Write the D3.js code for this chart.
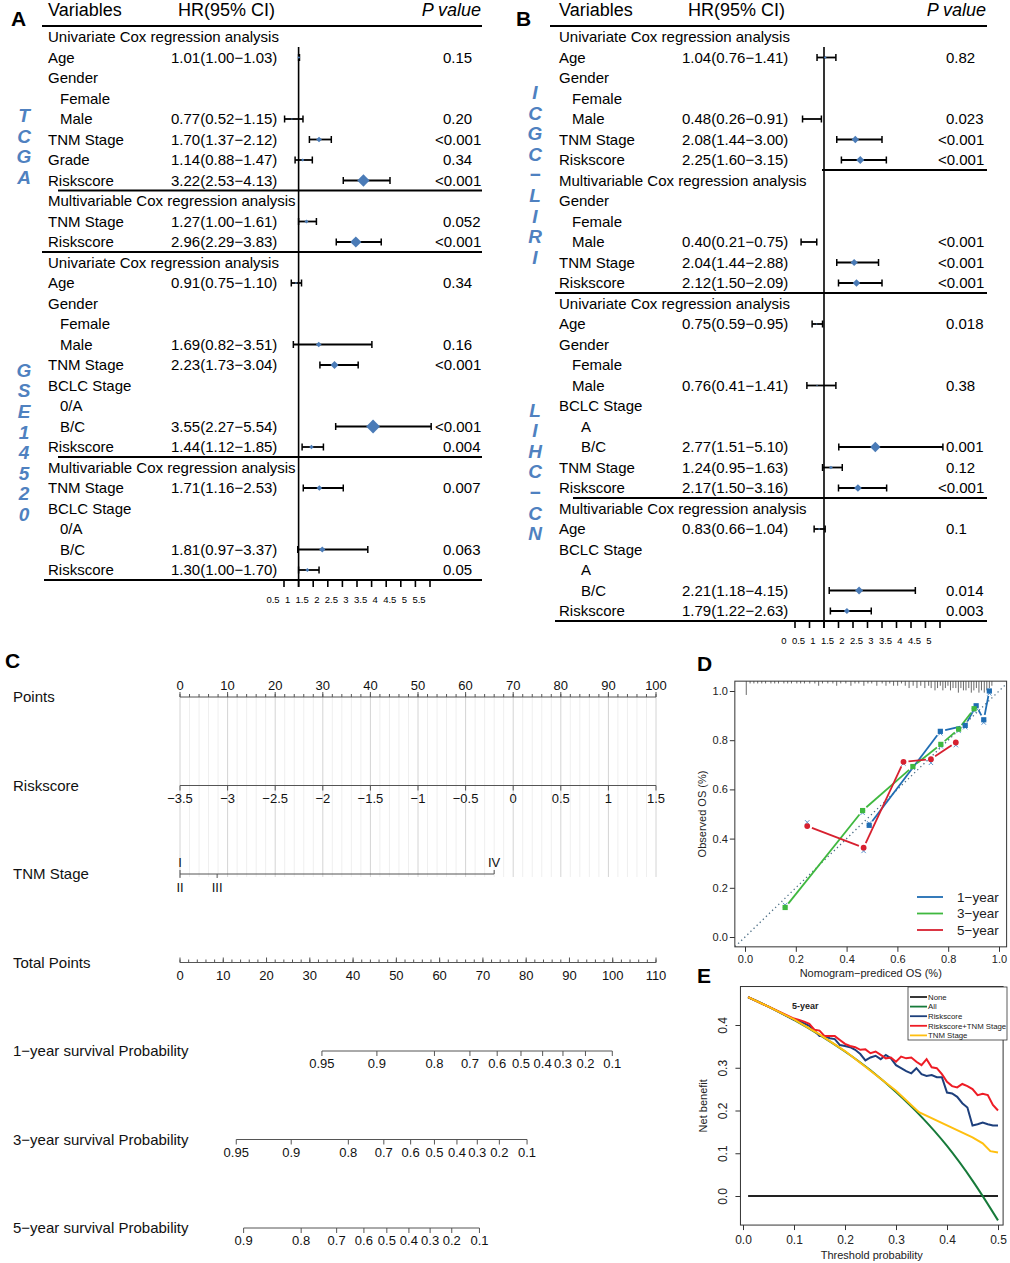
<!DOCTYPE html>
<html lang="en">
<head>
<meta charset="utf-8">
<title>Cox forest plots, nomogram, calibration and DCA</title>
<script src="https://cdnjs.cloudflare.com/ajax/libs/d3/7.8.5/d3.min.js"></script>
<style>
	body { margin: 0; background: #fff; }
	svg { display: block; font-family: "Liberation Sans", Arial, sans-serif; }
</style>
</head>
<body>
<svg id="fig" width="1010" height="1263"></svg>
<script>
// ---------- A: TCGA / GSE14520 ----------
var labelsA = ["Univariate Cox regression analysis","Age","Gender","Female","Male","TNM Stage","Grade","Riskscore",
	"Multivariable Cox regression analysis","TNM Stage","Riskscore",
	"Univariate Cox regression analysis","Age","Gender","Female","Male","TNM Stage","BCLC Stage","0/A","B/C","Riskscore",
	"Multivariable Cox regression analysis","TNM Stage","BCLC Stage","0/A","B/C","Riskscore"];
var indentA = [0,0,0,1,1,0,0,0, 0,0,0, 0,0,0,1,1,0,0,1,1,0, 0,0,0,1,1,0];
var hrTextA = ["","1.01(1.00−1.03)","","","0.77(0.52−1.15)","1.70(1.37−2.12)","1.14(0.88−1.47)","3.22(2.53−4.13)",
	"","1.27(1.00−1.61)","2.96(2.29−3.83)",
	"","0.91(0.75−1.10)","","","1.69(0.82−3.51)","2.23(1.73−3.04)","","","3.55(2.27−5.54)","1.44(1.12−1.85)",
	"","1.71(1.16−2.53)","","","1.81(0.97−3.37)","1.30(1.00−1.70)"];
var hrA = [null,1.01,null,null,0.77,1.70,1.14,3.22, null,1.27,2.96, null,0.91,null,null,1.69,2.23,null,null,3.55,1.44, null,1.71,null,null,1.81,1.30];
var loA = [null,1.00,null,null,0.52,1.37,0.88,2.53, null,1.00,2.29, null,0.75,null,null,0.82,1.73,null,null,2.27,1.12, null,1.16,null,null,0.97,1.00];
var hiA = [null,1.03,null,null,1.15,2.12,1.47,4.13, null,1.61,3.83, null,1.10,null,null,3.51,3.04,null,null,5.54,1.85, null,2.53,null,null,3.37,1.70];
var pA = ["","0.15","","","0.20","<0.001","0.34","<0.001", "","0.052","<0.001",
	"","0.34","","","0.16","<0.001","","","<0.001","0.004", "","0.007","","","0.063","0.05"];
var sepRowsA = [7, 10, 20, 26];
var ticksA = [0.5,1,1.5,2,2.5,3,3.5,4,4.5,5,5.5];

// ---------- B: ICGC-LIRI / LIHC-CN ----------
var labelsB = ["Univariate Cox regression analysis","Age","Gender","Female","Male","TNM Stage","Riskscore",
	"Multivariable Cox regression analysis","Gender","Female","Male","TNM Stage","Riskscore",
	"Univariate Cox regression analysis","Age","Gender","Female","Male","BCLC Stage","A","B/C","TNM Stage","Riskscore",
	"Multivariable Cox regression analysis","Age","BCLC Stage","A","B/C","Riskscore"];
var indentB = [0,0,0,1,1,0,0, 0,0,1,1,0,0, 0,0,0,1,1,0,2,2,0,0, 0,0,0,2,2,0];
var hrTextB = ["","1.04(0.76−1.41)","","","0.48(0.26−0.91)","2.08(1.44−3.00)","2.25(1.60−3.15)",
	"","","","0.40(0.21−0.75)","2.04(1.44−2.88)","2.12(1.50−2.09)",
	"","0.75(0.59−0.95)","","","0.76(0.41−1.41)","","","2.77(1.51−5.10)","1.24(0.95−1.63)","2.17(1.50−3.16)",
	"","0.83(0.66−1.04)","","","2.21(1.18−4.15)","1.79(1.22−2.63)"];
var hrB = [null,1.04,null,null,0.48,2.08,2.25, null,null,null,0.40,2.04,2.12, null,0.75,null,null,0.76,null,null,2.77,1.24,2.17, null,0.83,null,null,2.21,1.79];
var loB = [null,0.76,null,null,0.26,1.44,1.60, null,null,null,0.21,1.44,1.50, null,0.59,null,null,0.41,null,null,1.51,0.95,1.50, null,0.66,null,null,1.18,1.22];
var hiB = [null,1.41,null,null,0.91,3.00,3.15, null,null,null,0.75,2.88,3.00, null,0.95,null,null,1.41,null,null,5.10,1.63,3.16, null,1.04,null,null,4.15,2.63];
var pB = ["","0.82","","","0.023","<0.001","<0.001", "","","","<0.001","<0.001","<0.001",
	"","0.018","","","0.38","","","0.001","0.12","<0.001", "","0.1","","","0.014","0.003"];
var sepRowsB = [6, 12, 22, 28];
var ticksB = [0,0.5,1,1.5,2,2.5,3,3.5,4,4.5,5];

// ---------- C: nomogram ----------
var pointTicks = [0,10,20,30,40,50,60,70,80,90,100];
var riskTicks = [-3.5,-3,-2.5,-2,-1.5,-1,-0.5,0,0.5,1,1.5];
var tnmLevels = ["I","II","III","IV"];
var tnmPoints = [0, 0, 7.8, 66];
var totalTicks = [0,10,20,30,40,50,60,70,80,90,100,110];
var surv1Prob = [0.95,0.9,0.8,0.7,0.6,0.5,0.4,0.3,0.2,0.1];
var surv1Pts = [32.8,45.5,58.8,67.0,73.3,78.8,83.8,88.5,93.7,99.9];
var surv3Prob = [0.95,0.9,0.8,0.7,0.6,0.5,0.4,0.3,0.2,0.1];
var surv3Pts = [13.0,25.7,38.9,47.1,53.3,58.8,64.0,68.7,73.8,80.2];
var surv5Prob = [0.9,0.8,0.7,0.6,0.5,0.4,0.3,0.2,0.1];
var surv5Pts = [14.7,28.0,36.2,42.5,47.8,52.9,57.8,62.8,69.2];

// ---------- D: calibration ----------
var cal1X = [0.489,0.769,0.867,0.910,0.940,0.962];
var cal1Y = [0.454,0.836,0.86,0.94,0.883,1.0];
var cal1Yc = [0.462,0.828,0.853,0.93,0.872,0.99];
var cal3X = [0.158,0.463,0.661,0.771,0.841,0.902];
var cal3Y = [0.12,0.514,0.693,0.783,0.845,0.928];
var cal3Yc = [0.13,0.505,0.688,0.775,0.838,0.92];
var cal5X = [0.245,0.467,0.624,0.732,0.830];
var cal5Y = [0.451,0.363,0.712,0.723,0.791];
var cal5Yc = [0.466,0.35,0.705,0.708,0.78];
var rugX = [0.005,0.02,0.035,0.05,0.066,0.081,0.102,0.117,0.132,0.153,0.168,0.183,0.204,0.219,0.234,0.255,0.275,0.29,0.305,0.326,0.346,0.361,0.377,0.397,0.417,0.433,0.448,0.468,0.484,0.499,0.519,0.54,0.555,0.57,0.585,0.601,0.616,0.631,0.646,0.662,0.677,0.692,0.708,0.723,0.733,0.748,0.758,0.769,0.779,0.789,0.799,0.809,0.819,0.83,0.84,0.85,0.86,0.87,0.881,0.891,0.901,0.911,0.921,0.931,0.942,0.952,0.962,0.972];
var rugN = [6,1,1,1,1,1,1,1,1,1,1,1,1,1,1,1,1,2,1,1,1,2,1,1,2,1,1,2,1,1,2,1,2,1,2,2,1,2,3,2,3,2,3,2,3,4,3,2,4,3,2,4,3,3,5,3,4,4,3,5,4,3,5,4,5,4,3,2];

// ---------- E: decision curve ----------
var dcaX = [0.01,0.05,0.10,0.11,0.12,0.13,0.14,0.15,0.16,0.17,0.18,0.19,0.20,0.21,0.22,0.23,0.24,0.25,0.26,0.27,0.28,0.29,
	0.30,0.31,0.32,0.33,0.34,0.35,0.36,0.37,0.38,0.39,0.40,0.41,0.42,0.43,0.44,0.45,0.46,0.47,0.48,0.49,0.50];
var dcaRisk = [0.465,0.443,0.412,0.409,0.404,0.398,0.387,0.374,0.374,0.369,0.367,0.353,0.351,0.348,0.342,0.332,0.317,0.324,0.328,0.320,0.330,0.322,
	0.306,0.299,0.292,0.287,0.299,0.285,0.281,0.283,0.278,0.278,0.242,0.240,0.232,0.217,0.207,0.165,0.168,0.172,0.168,0.165,0.165];
var dcaCombo = [0.465,0.443,0.415,0.412,0.408,0.403,0.389,0.387,0.374,0.374,0.374,0.365,0.356,0.351,0.348,0.342,0.343,0.334,0.338,0.330,0.322,0.324,
	0.314,0.326,0.322,0.324,0.314,0.306,0.320,0.301,0.299,0.285,0.267,0.257,0.254,0.262,0.257,0.250,0.236,0.239,0.236,0.213,0.200];
var dcaTnmX = [0.01,0.05,0.10,0.15,0.20,0.25,0.30,0.345,0.40,0.45,0.47,0.485,0.50];
var dcaTnm = [0.465,0.443,0.413,0.378,0.339,0.293,0.246,0.196,0.165,0.137,0.123,0.105,0.102];
var dcaAllX = [0.01,0.05,0.10,0.15,0.20,0.25,0.30,0.35,0.40,0.45,0.50];
var dcaAll = [0.465,0.443,0.412,0.377,0.338,0.294,0.243,0.185,0.117,0.036,-0.057];
var dcaNoneX = [0.01,0.50];
var dcaNone = [0,0];

var svg = d3.select("#fig");
var BLUE = "#4a7bb7";

function panelLetter(t, x, y) {
	svg.append("text").attr("x", x).attr("y", y).attr("font-size", 21).attr("font-weight", "bold").text(t);
}

function sideLetters(word, x, cy) {
	var chars = Array.from(word);
	var step = 20.6;
	chars.forEach(function (c, k) {
		svg.append("text").attr("x", x).attr("y", cy + (k - (chars.length - 1) / 2) * step)
			.attr("dy", "0.36em").attr("text-anchor", "middle")
			.attr("font-size", 19).attr("font-weight", "bold").attr("font-style", "italic")
			.attr("fill", "#4f81c0").text(c);
	});
}

function forest(o) {
	var g = svg.append("g");
	var n = o.labels.length;
	var y = d3.scaleLinear().domain([0, 1]).range([37, 57.5]);
	var x = d3.scaleLinear().domain(o.domain).range(o.range);
	var box = d3.scaleLinear().domain([0.4, 3.6]).range([0, 7]).clamp(true);
	var bottom = y(n - 1) + 10;

	g.append("text").attr("x", o.xText).attr("y", 16).attr("font-size", 18).text("Variables");
	g.append("text").attr("x", o.xHead).attr("y", 16).attr("font-size", 18).text("HR(95% CI)");
	g.append("text").attr("x", o.xEnd).attr("y", 16).attr("font-size", 18)
		.attr("font-style", "italic").attr("text-anchor", "end").text("P value");
	g.append("line").attr("x1", o.lineStart[0]).attr("x2", o.xEnd + 1).attr("y1", 26).attr("y2", 26)
		.attr("stroke", "#000").attr("stroke-width", 2);

	o.seps.forEach(function (r, k) {
		g.append("line").attr("x1", o.lineStart[k + 1]).attr("x2", o.xEnd + 1)
			.attr("y1", y(r) + 10).attr("y2", y(r) + 10).attr("stroke", "#000").attr("stroke-width", 2);
	});

	// reference line at HR = 1
	g.append("line").attr("x1", x(1)).attr("x2", x(1)).attr("y1", 47).attr("y2", bottom + 7)
		.attr("stroke", "#000").attr("stroke-width", 1.6);

	// axis
	g.selectAll(".tk").data(o.ticks).enter().append("line")
		.attr("x1", function (d) { return x(d); }).attr("x2", function (d) { return x(d); })
		.attr("y1", bottom).attr("y2", bottom + 7).attr("stroke", "#000").attr("stroke-width", 1.6);
	g.selectAll(".tl").data(o.ticks).enter().append("text")
		.attr("x", function (d) { return x(d) - 11; }).attr("y", bottom + 23)
		.attr("text-anchor", "middle").attr("font-size", 9.5).text(function (d) { return d; });

	o.labels.forEach(function (lab, i) {
		var cy = y(i);
		g.append("text").attr("x", o.xText + o.indentPx[o.indent[i]]).attr("y", cy).attr("dy", "0.36em")
			.attr("font-size", 15).text(lab);
		if (o.hrText[i]) {
			g.append("text").attr("x", o.xHR).attr("y", cy).attr("dy", "0.36em").attr("font-size", 15).text(o.hrText[i]);
		}
		if (o.p[i]) {
			g.append("text").attr("x", o.xP + (o.p[i].charAt(0) === "<" ? -8 : 0)).attr("y", cy).attr("dy", "0.36em")
				.attr("font-size", 15).text(o.p[i]);
		}
		if (o.hr[i] !== null) {
			var x1 = x(o.lo[i]), x2 = x(o.hi[i]);
			g.append("line").attr("x1", x1).attr("x2", x2).attr("y1", cy).attr("y2", cy)
				.attr("stroke", "#000").attr("stroke-width", 1.8);
			[x1, x2].forEach(function (xx) {
				g.append("line").attr("x1", xx).attr("x2", xx).attr("y1", cy - 3.5).attr("y2", cy + 3.5)
					.attr("stroke", "#000").attr("stroke-width", 1.5);
			});
			var h = box(o.hr[i]), cx = x(o.hr[i]);
			if (h > 0.3) {
				g.append("path").attr("d", "M" + (cx - h) + "," + cy + "L" + cx + "," + (cy - h) +
					"L" + (cx + h) + "," + cy + "L" + cx + "," + (cy + h) + "Z").attr("fill", BLUE);
			}
		}
	});
}

panelLetter("A", 11, 26);
panelLetter("B", 516, 26);

forest({
	labels: labelsA, indent: indentA, hrText: hrTextA, hr: hrA, lo: loA, hi: hiA, p: pA,
	seps: sepRowsA, lineStart: [42, 58, 42, 58, 44], indentPx: [0, 12, 22],
	xText: 48, xHead: 178, xHR: 171, xP: 443, xEnd: 481,
	domain: [0.5, 5.5], range: [284, 430], ticks: ticksA
});
forest({
	labels: labelsB, indent: indentB, hrText: hrTextB, hr: hrB, lo: loB, hi: hiB, p: pB,
	seps: sepRowsB, lineStart: [550, 822, 555, 573, 555], indentPx: [0, 13, 22],
	xText: 559, xHead: 688, xHR: 682, xP: 946, xEnd: 986,
	domain: [0, 5], range: [795, 940], ticks: ticksB
});

sideLetters("TCGA", 24, 146);
sideLetters("GSE14520", 24, 442);
sideLetters("ICGC−LIRI", 535, 174.5);
sideLetters("LIHC−CN", 535, 471.5);

// ---------- C ----------
panelLetter("C", 5, 668);
var gC = svg.append("g");
var ptsX = d3.scaleLinear().domain([0, 100]).range([180, 656]);
var totX = d3.scaleLinear().domain([0, 110]).range([180, 656]);
var rsX = d3.scaleLinear().domain([-3.5, 1.5]).range([180, 656]);
var rowY = d3.scaleLinear().domain([0, 1]).range([697, 785.5]);
var AX = "#555";

// grid
var gridMinor = d3.range(0, 101, 2);
gC.selectAll(".gm").data(gridMinor).enter().append("line")
	.attr("x1", function (d) { return ptsX(d); }).attr("x2", function (d) { return ptsX(d); })
	.attr("y1", rowY(0)).attr("y2", rowY(2) + 3)
	.attr("stroke", function (d) { return d % 10 === 0 ? "#d4d4d4" : "#efefef"; }).attr("stroke-width", 1);

var rowNames = ["Points","Riskscore","TNM Stage","Total Points","1−year survival Probability","3−year survival Probability","5−year survival Probability"];
rowNames.forEach(function (t, i) {
	gC.append("text").attr("x", 13).attr("y", rowY(i)).attr("dy", "0.36em").attr("font-size", 15).attr("fill", "#111").text(t);
});

function hline(x1, x2, yy) {
	gC.append("line").attr("x1", x1).attr("x2", x2).attr("y1", yy).attr("y2", yy).attr("stroke", AX).attr("stroke-width", 1);
}
function ticksAt(xs, yy, len) {
	gC.selectAll(null).data(xs).enter().append("line")
		.attr("x1", function (d) { return d; }).attr("x2", function (d) { return d; })
		.attr("y1", yy).attr("y2", yy + len).attr("stroke", AX).attr("stroke-width", 1);
}
function labelsAt(xs, txt, yy) {
	gC.selectAll(null).data(xs).enter().append("text")
		.attr("x", function (d) { return d; }).attr("y", yy).attr("text-anchor", "middle")
		.attr("font-size", 13).attr("fill", "#111").text(function (d, i) { return txt[i]; });
}
var fmt = function (v) { return String(v).replace("-", "−"); };

// Points
hline(ptsX(0), ptsX(100), rowY(0));
ticksAt(d3.range(0, 101, 2).map(ptsX), rowY(0), -3);
ticksAt(pointTicks.map(ptsX), rowY(0), -5);
labelsAt(pointTicks.map(ptsX), pointTicks.map(fmt), rowY(0) - 7);

// Riskscore
hline(rsX(-3.5), rsX(1.5), rowY(1));
ticksAt(riskTicks.map(rsX), rowY(1), 5);
labelsAt(riskTicks.map(rsX), riskTicks.map(fmt), rowY(1) + 17);

// TNM Stage
hline(ptsX(0), ptsX(d3.max(tnmPoints)), rowY(2));
tnmLevels.forEach(function (lv, i) {
	var up = (lv === "I" || lv === "IV");
	var xx = ptsX(tnmPoints[i]);
	gC.append("line").attr("x1", xx).attr("x2", xx).attr("y1", rowY(2)).attr("y2", rowY(2) + (up ? -4 : 4))
		.attr("stroke", AX);
	gC.append("text").attr("x", xx).attr("y", up ? rowY(2) - 7 : rowY(2) + 18)
		.attr("text-anchor", "middle").attr("font-size", 13).attr("fill", "#111").text(lv);
});

// Total Points
hline(totX(0), totX(110), rowY(3));
ticksAt(d3.range(0, 111, 2).map(totX), rowY(3), -3);
ticksAt(totalTicks.map(totX), rowY(3), -5);
labelsAt(totalTicks.map(totX), totalTicks.map(fmt), rowY(3) + 17);

// survival scales
[[surv1Pts, surv1Prob], [surv3Pts, surv3Prob], [surv5Pts, surv5Prob]].forEach(function (s, k) {
	var yy = rowY(4 + k);
	var xs = s[0].map(totX);
	hline(d3.min(xs), d3.max(xs), yy);
	ticksAt(xs, yy, 5);
	labelsAt(xs, s[1].map(fmt), yy + 17);
});

// ---------- D ----------
panelLetter("D", 697, 671);
var gD = svg.append("g");
var dX = d3.scaleLinear().domain([0, 1]).range([745, 999]);
var dY = d3.scaleLinear().domain([0, 1]).range([937, 691]);
var dL = dX(-0.04), dR = dX(1.03), dT = dY(1.04), dB = dY(-0.04);

gD.append("clipPath").attr("id", "clipD").append("rect")
	.attr("x", dL).attr("y", dT).attr("width", dR - dL).attr("height", dB - dT);

gD.append("line").attr("clip-path", "url(#clipD)")
	.attr("x1", dX(-0.1)).attr("y1", dY(-0.1)).attr("x2", dX(1.1)).attr("y2", dY(1.1))
	.attr("stroke", "#4d6f86").attr("stroke-width", 1.3).attr("stroke-dasharray", "1.3,3");

gD.selectAll(".rug").data(rugX).enter().append("line")
	.attr("x1", function (d) { return dX(d); }).attr("x2", function (d) { return dX(d); })
	.attr("y1", dT).attr("y2", function (d, i) { return dT + rugN[i] * 2.3; })
	.attr("stroke", "#444").attr("stroke-width", 0.8);

var calSeries = [
	{ x: cal1X, y: cal1Y, yc: cal1Yc, color: "#1f6db3", shape: "square", name: "1−year" },
	{ x: cal3X, y: cal3Y, yc: cal3Yc, color: "#3fb83f", shape: "square", name: "3−year" },
	{ x: cal5X, y: cal5Y, yc: cal5Yc, color: "#d7202f", shape: "circle", name: "5−year" }
];
var GAP = 5;
calSeries.forEach(function (s) {
	for (var i = 0; i < s.x.length - 1; i++) {
		var x1 = dX(s.x[i]), y1 = dY(s.y[i]), x2 = dX(s.x[i + 1]), y2 = dY(s.y[i + 1]);
		var L = Math.hypot(x2 - x1, y2 - y1);
		if (L <= 2 * GAP) continue;
		var ux = (x2 - x1) / L, uy = (y2 - y1) / L;
		gD.append("line").attr("x1", x1 + ux * GAP).attr("y1", y1 + uy * GAP)
			.attr("x2", x2 - ux * GAP).attr("y2", y2 - uy * GAP)
			.attr("stroke", s.color).attr("stroke-width", 1.8);
	}
});
calSeries.forEach(function (s) {
	s.x.forEach(function (v, i) {
		var cx = dX(v), cyc = dY(s.yc[i]);
		gD.append("path").attr("d", "M" + (cx - 2.2) + "," + (cyc - 2.2) + "L" + (cx + 2.2) + "," + (cyc + 2.2) +
			"M" + (cx - 2.2) + "," + (cyc + 2.2) + "L" + (cx + 2.2) + "," + (cyc - 2.2))
			.attr("stroke", "#5b93cc").attr("stroke-width", 1);
	});
	s.x.forEach(function (v, i) {
		var cx = dX(v), cy = dY(s.y[i]);
		if (s.shape === "square") {
			gD.append("rect").attr("x", cx - 2.6).attr("y", cy - 2.6).attr("width", 5.2).attr("height", 5.2).attr("fill", s.color);
		} else {
			gD.append("circle").attr("cx", cx).attr("cy", cy).attr("r", 2.9).attr("fill", s.color);
		}
	});
});

gD.append("rect").attr("x", dL).attr("y", dT).attr("width", dR - dL).attr("height", dB - dT)
	.attr("fill", "none").attr("stroke", "#333").attr("stroke-width", 1);

var axDl = gD.append("g").attr("transform", "translate(" + dL + ",0)")
	.call(d3.axisLeft(dY).tickValues([0, 0.2, 0.4, 0.6, 0.8, 1]).tickFormat(d3.format(".1f")).tickSize(5).tickPadding(2));
var axDb = gD.append("g").attr("transform", "translate(0," + dB + ")")
	.call(d3.axisBottom(dX).tickValues([0, 0.2, 0.4, 0.6, 0.8, 1]).tickFormat(d3.format(".1f")).tickSize(5).tickPadding(3));
[axDl, axDb].forEach(function (a) {
	a.select(".domain").remove();
	a.selectAll("text").attr("font-size", 11).attr("font-family", "Liberation Sans, Arial, sans-serif").attr("fill", "#222");
	a.selectAll("line").attr("stroke", "#333");
});
gD.append("text").attr("transform", "translate(706," + ((dT + dB) / 2) + ") rotate(-90)")
	.attr("text-anchor", "middle").attr("font-size", 11).attr("fill", "#222").text("Observed OS (%)");
gD.append("text").attr("x", (dL + dR) / 2).attr("y", 977).attr("text-anchor", "middle")
	.attr("font-size", 11).attr("fill", "#222").text("Nomogram−prediced OS (%)");

var legY = d3.scaleLinear().domain([0, 1]).range([897, 913.5]);
calSeries.forEach(function (s, i) {
	gD.append("line").attr("x1", 917).attr("x2", 943).attr("y1", legY(i)).attr("y2", legY(i))
		.attr("stroke", s.color).attr("stroke-width", 1.8);
	gD.append("text").attr("x", 957).attr("y", legY(i)).attr("dy", "0.36em").attr("font-size", 13.5)
		.attr("fill", "#222").text(s.name);
});

// ---------- E ----------
panelLetter("E", 697, 983);
var gE = svg.append("g");
var eX = d3.scaleLinear().domain([0, 0.5]).range([743, 998]);
var eY = d3.scaleLinear().domain([0, 0.4]).range([1196, 1025]);
var eL = eX(-0.005), eR = eX(0.51), eT = eY(0.49), eB = eY(-0.068);

var curves = [
	{ name: "None", x: dcaNoneX, y: dcaNone, color: "#222" },
	{ name: "All", x: dcaAllX, y: dcaAll, color: "#177a3a" },
	{ name: "Riskscore", x: dcaX, y: dcaRisk, color: "#1d3f7c" },
	{ name: "Riskscore+TNM Stage", x: dcaX, y: dcaCombo, color: "#ee1c25" },
	{ name: "TNM Stage", x: dcaTnmX, y: dcaTnm, color: "#ffbf0f" }
];
curves.forEach(function (c) {
	var line = d3.line().x(function (d) { return eX(d[0]); }).y(function (d) { return eY(d[1]); })
		.curve(c.name === "All" ? d3.curveMonotoneX : d3.curveLinear);
	gE.append("path").attr("d", line(d3.zip(c.x, c.y))).attr("fill", "none")
		.attr("stroke", c.color).attr("stroke-width", 2);
});

gE.append("rect").attr("x", eL).attr("y", eT).attr("width", eR - eL).attr("height", eB - eT)
	.attr("fill", "none").attr("stroke", "#333").attr("stroke-width", 1);

var axEl = gE.append("g").attr("transform", "translate(" + eL + ",0)")
	.call(d3.axisLeft(eY).tickValues([0, 0.1, 0.2, 0.3, 0.4]).tickFormat(d3.format(".1f")).tickSize(5));
axEl.selectAll("text").attr("x", null).attr("dy", null).attr("text-anchor", "middle")
	.attr("transform", "translate(-13,0) rotate(-90)");
var axEb = gE.append("g").attr("transform", "translate(0," + eB + ")")
	.call(d3.axisBottom(eX).tickValues([0, 0.1, 0.2, 0.3, 0.4, 0.5]).tickFormat(d3.format(".1f")).tickSize(5).tickPadding(5));
[axEl, axEb].forEach(function (a) {
	a.select(".domain").remove();
	a.selectAll("text").attr("font-size", 12).attr("font-family", "Liberation Sans, Arial, sans-serif").attr("fill", "#222");
	a.selectAll("line").attr("stroke", "#333");
});
gE.append("text").attr("transform", "translate(707," + ((eT + eB) / 2) + ") rotate(-90)")
	.attr("text-anchor", "middle").attr("font-size", 11).attr("fill", "#222").text("Net benefit");
gE.append("text").attr("x", (eL + eR) / 2).attr("y", 1259).attr("text-anchor", "middle")
	.attr("font-size", 11).attr("fill", "#222").text("Threshold probability");
gE.append("text").attr("x", eX(0.122)).attr("y", eY(0.445)).attr("dy", "0.36em").attr("text-anchor", "middle")
	.attr("font-size", 9).attr("font-weight", "bold").attr("fill", "#222").text("5-year");

var lgE = gE.append("g").attr("transform", "translate(908,987)");
lgE.append("rect").attr("width", 99).attr("height", 53).attr("fill", "#fff").attr("stroke", "#333").attr("stroke-width", 0.8);
var lgY = d3.scaleLinear().domain([0, 1]).range([10, 19.6]);
curves.forEach(function (c, i) {
	lgE.append("line").attr("x1", 2).attr("x2", 19).attr("y1", lgY(i)).attr("y2", lgY(i))
		.attr("stroke", c.color).attr("stroke-width", 1.8);
	lgE.append("text").attr("x", 20).attr("y", lgY(i)).attr("dy", "0.35em").attr("font-size", 7.8)
		.attr("fill", "#222").text(c.name);
});
</script>
</body>
</html>
